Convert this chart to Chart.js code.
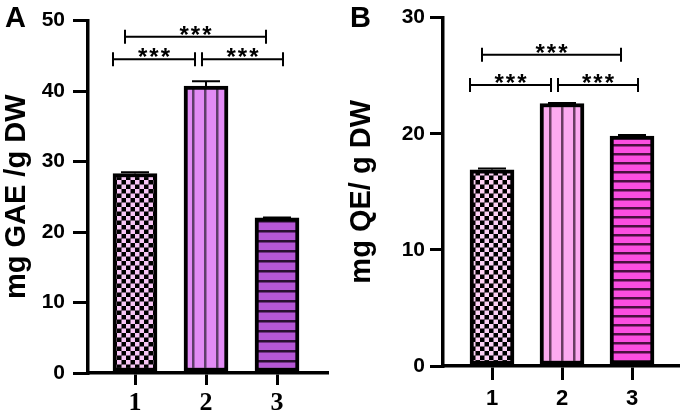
<!DOCTYPE html>
<html>
<head>
<meta charset="utf-8">
<script src="https://cdn.jsdelivr.net/npm/chart.js@4.4.0/dist/chart.umd.min.js"></script>
<style>
  body { margin: 0; background: #fff; }
  #wrap { position: relative; width: 685px; height: 417px; }
  canvas { position: absolute; top: 0; }
  #chartA { left: 0; }
  #chartB { left: 345px; }
</style>
</head>
<body>
<div id="wrap">
  <canvas id="chartA" width="340" height="417"></canvas>
  <canvas id="chartB" width="340" height="417"></canvas>
</div>
<script>
// groups on the x axis
const groups = [1, 2, 3];
const groupLabels = ["1", "2", "3"];

// panel A: total phenolics
const phenolValues = [28.3, 40.7, 22.0];
const phenolErrors = [0.2, 0.7, 0.05];
const phenolTicks = [0, 10, 20, 30, 40, 50];

// panel B: total flavonoids
const flavonoidValues = [16.9, 22.6, 19.8];
const flavonoidErrors = [0.1, 0.05, 0.1];
const flavonoidTicks = [0, 10, 20, 30];

// pairwise comparisons and their significance
const comparisons = [[1, 2], [2, 3], [1, 3]];
const sigLabels = ["***", "***", "***"];

const SANS = "'Liberation Sans', Arial, sans-serif";
const SERIF = "'Liberation Serif', 'Times New Roman', serif";

function checker(ctx, light) {
    const c = document.createElement("canvas");
    c.width = 9; c.height = 9;
    const g = c.getContext("2d");
    g.fillStyle = "#000";
    g.fillRect(0, 0, 9, 9);
    g.fillStyle = light;
    g.fillRect(0, 0, 4.5, 4.5);
    g.fillRect(4.5, 4.5, 4.5, 4.5);
    return ctx.createPattern(c, "repeat");
}

function vstripes(ctx, fill, line) {
    const c = document.createElement("canvas");
    c.width = 12; c.height = 4;
    const g = c.getContext("2d");
    g.fillStyle = fill;
    g.fillRect(0, 0, 12, 4);
    g.fillStyle = line;
    g.fillRect(0, 0, 2.5, 4);
    return ctx.createPattern(c, "repeat");
}

function hstripes(ctx, fill, line, period) {
    const c = document.createElement("canvas");
    c.width = 4; c.height = period;
    const g = c.getContext("2d");
    g.fillStyle = fill;
    g.fillRect(0, 0, 4, period);
    g.fillStyle = line;
    g.fillRect(0, 0, 4, 2.5);
    return ctx.createPattern(c, "repeat");
}

// error bars, significance brackets, panel letter
const annotate = {
    id: "annot",
    afterDatasetsDraw(chart, args, opts) {
        const ctx = chart.ctx;
        const xs = chart.scales.x, ys = chart.scales.y;
        ctx.save();
        ctx.strokeStyle = "#000";
        ctx.fillStyle = "#000";
        ctx.lineWidth = 2;
        opts.errors.forEach((e, i) => {
            const cx = xs.getPixelForValue(groups[i]);
            const base = ys.getPixelForValue(opts.values[i]);
            const top = ys.getPixelForValue(opts.values[i] + e);
            ctx.beginPath();
            ctx.moveTo(cx, base); ctx.lineTo(cx, top);
            ctx.moveTo(cx - 14, top); ctx.lineTo(cx + 14, top);
            ctx.stroke();
        });

        ctx.font = "bold 24px " + SANS;
        ctx.letterSpacing = "2px";
        ctx.textAlign = "center";
        ctx.textBaseline = "alphabetic";
        comparisons.forEach(([a, b], i) => {
            const x1 = xs.getPixelForValue(a) + opts.offsets[i][0];
            const x2 = xs.getPixelForValue(b) + opts.offsets[i][1];
            const y = ys.getPixelForValue(opts.levels[i]);
            ctx.beginPath();
            ctx.moveTo(x1, y); ctx.lineTo(x2, y);
            ctx.moveTo(x1, y - 7); ctx.lineTo(x1, y + 7);
            ctx.moveTo(x2, y - 7); ctx.lineTo(x2, y + 7);
            ctx.stroke();
            ctx.fillText(sigLabels[i], (x1 + x2) / 2 + 1, y + 6);
        });

        ctx.letterSpacing = "0px";
        ctx.textAlign = "left";
        ctx.textBaseline = "top";
        ctx.font = "bold 29px " + SANS;
        ctx.fillText(opts.letter, 5, 4);
        ctx.restore();
    }
};

function makeChart(id, cfg) {
    const ctx = document.getElementById(id).getContext("2d");
    return new Chart(ctx, {
        type: "bar",
        data: {
            datasets: [
                {
                    data: groups.map((g, i) => ({ x: g, y: cfg.values[i] })),
                    backgroundColor: cfg.fills(ctx),
                    borderColor: "#000",
                    borderWidth: 4,
                    borderSkipped: false,
                    barThickness: 44,
                },
            ],
        },
        options: {
            responsive: false,
            animation: false,
            layout: { padding: cfg.padding },
            plugins: {
                legend: { display: false },
                tooltip: { enabled: false },
                annot: {
                    values: cfg.values,
                    errors: cfg.errors,
                    levels: cfg.levels,
                    offsets: [[-22, -11], [-4, 6], [-10, -11]],
                    letter: cfg.letter,
                },
            },
            scales: {
                x: {
                    type: "linear",
                    offset: false,
                    min: cfg.xMin,
                    max: cfg.xMax,
                    afterBuildTicks: (s) => {
                        s.ticks = groups.map((v) => ({ value: v }));
                    },
                    afterFit: (s) => {
                        s.height = cfg.xHeight;
                    },
                    grid: {
                        offset: false,
                        drawOnChartArea: false,
                        tickLength: cfg.xTick,
                        lineWidth: 3,
                        color: "#000",
                    },
                    border: { display: true, width: 3.5, color: "#000" },
                    ticks: {
                        callback: (v, i) => groupLabels[i],
                        autoSkip: false,
                        maxRotation: 0,
                        color: "#000",
                        padding: cfg.xPad,
                        font: cfg.xFont,
                    },
                },
                y: {
                    min: 0,
                    max: cfg.ticks[cfg.ticks.length - 1],
                    afterBuildTicks: (s) => {
                        s.ticks = cfg.ticks.map((v) => ({ value: v }));
                    },
                    afterFit: (s) => {
                        s.width = cfg.yWidth;
                    },
                    grid: {
                        drawOnChartArea: false,
                        tickLength: cfg.yTick,
                        lineWidth: 3,
                        color: "#000",
                    },
                    border: { display: true, width: 3.5, color: "#000" },
                    ticks: {
                        color: "#000",
                        padding: cfg.yPad,
                        font: { family: SANS, size: 21, weight: "bold" },
                    },
                    title: {
                        display: true,
                        text: cfg.title,
                        color: "#000",
                        padding: { top: 0, bottom: 0 },
                        font: { family: SANS, size: 29, weight: "bold" },
                    },
                },
            },
        },
        plugins: [annotate],
    });
}

makeChart("chartA", {
    values: phenolValues,
    errors: phenolErrors,
    ticks: phenolTicks,
    title: "mg GAE /g DW",
    letter: "A",
    levels: [44.5, 44.5, 47.7],
    fills: (ctx) => [
        checker(ctx, "#f7c6f5"),
        vstripes(ctx, "#e28bf5", "#5e3d6a"),
        hstripes(ctx, "#b657d6", "#2b0f33", 10),
    ],
    padding: { top: 18, right: 13, left: 0, bottom: 0 },
    xMin: 0.338,
    xMax: 3.704,
    xHeight: 44,
    xTick: 12,
    xPad: 3,
    xFont: { family: SERIF, size: 26, weight: "bold" },
    yWidth: 88,
    yTick: 15,
    yPad: 8,
});

makeChart("chartB", {
    values: flavonoidValues,
    errors: flavonoidErrors,
    ticks: flavonoidTicks,
    title: "mg QE/ g DW",
    letter: "B",
    levels: [24.2, 24.2, 26.8],
    fills: (ctx) => [
        checker(ctx, "#fcd0f4"),
        vstripes(ctx, "#fdaaf0", "#6a3d62"),
        hstripes(ctx, "#fb4ee1", "#4a1040", 9),
    ],
    padding: { top: 13, right: 7, left: 0, bottom: 0 },
    xMin: 0.3,
    xMax: 3.657,
    xHeight: 51,
    xTick: 14,
    xPad: 6,
    xFont: { family: SANS, size: 22, weight: "bold" },
    yWidth: 98,
    yTick: 13,
    yPad: 5,
});
</script>
</body>
</html>
